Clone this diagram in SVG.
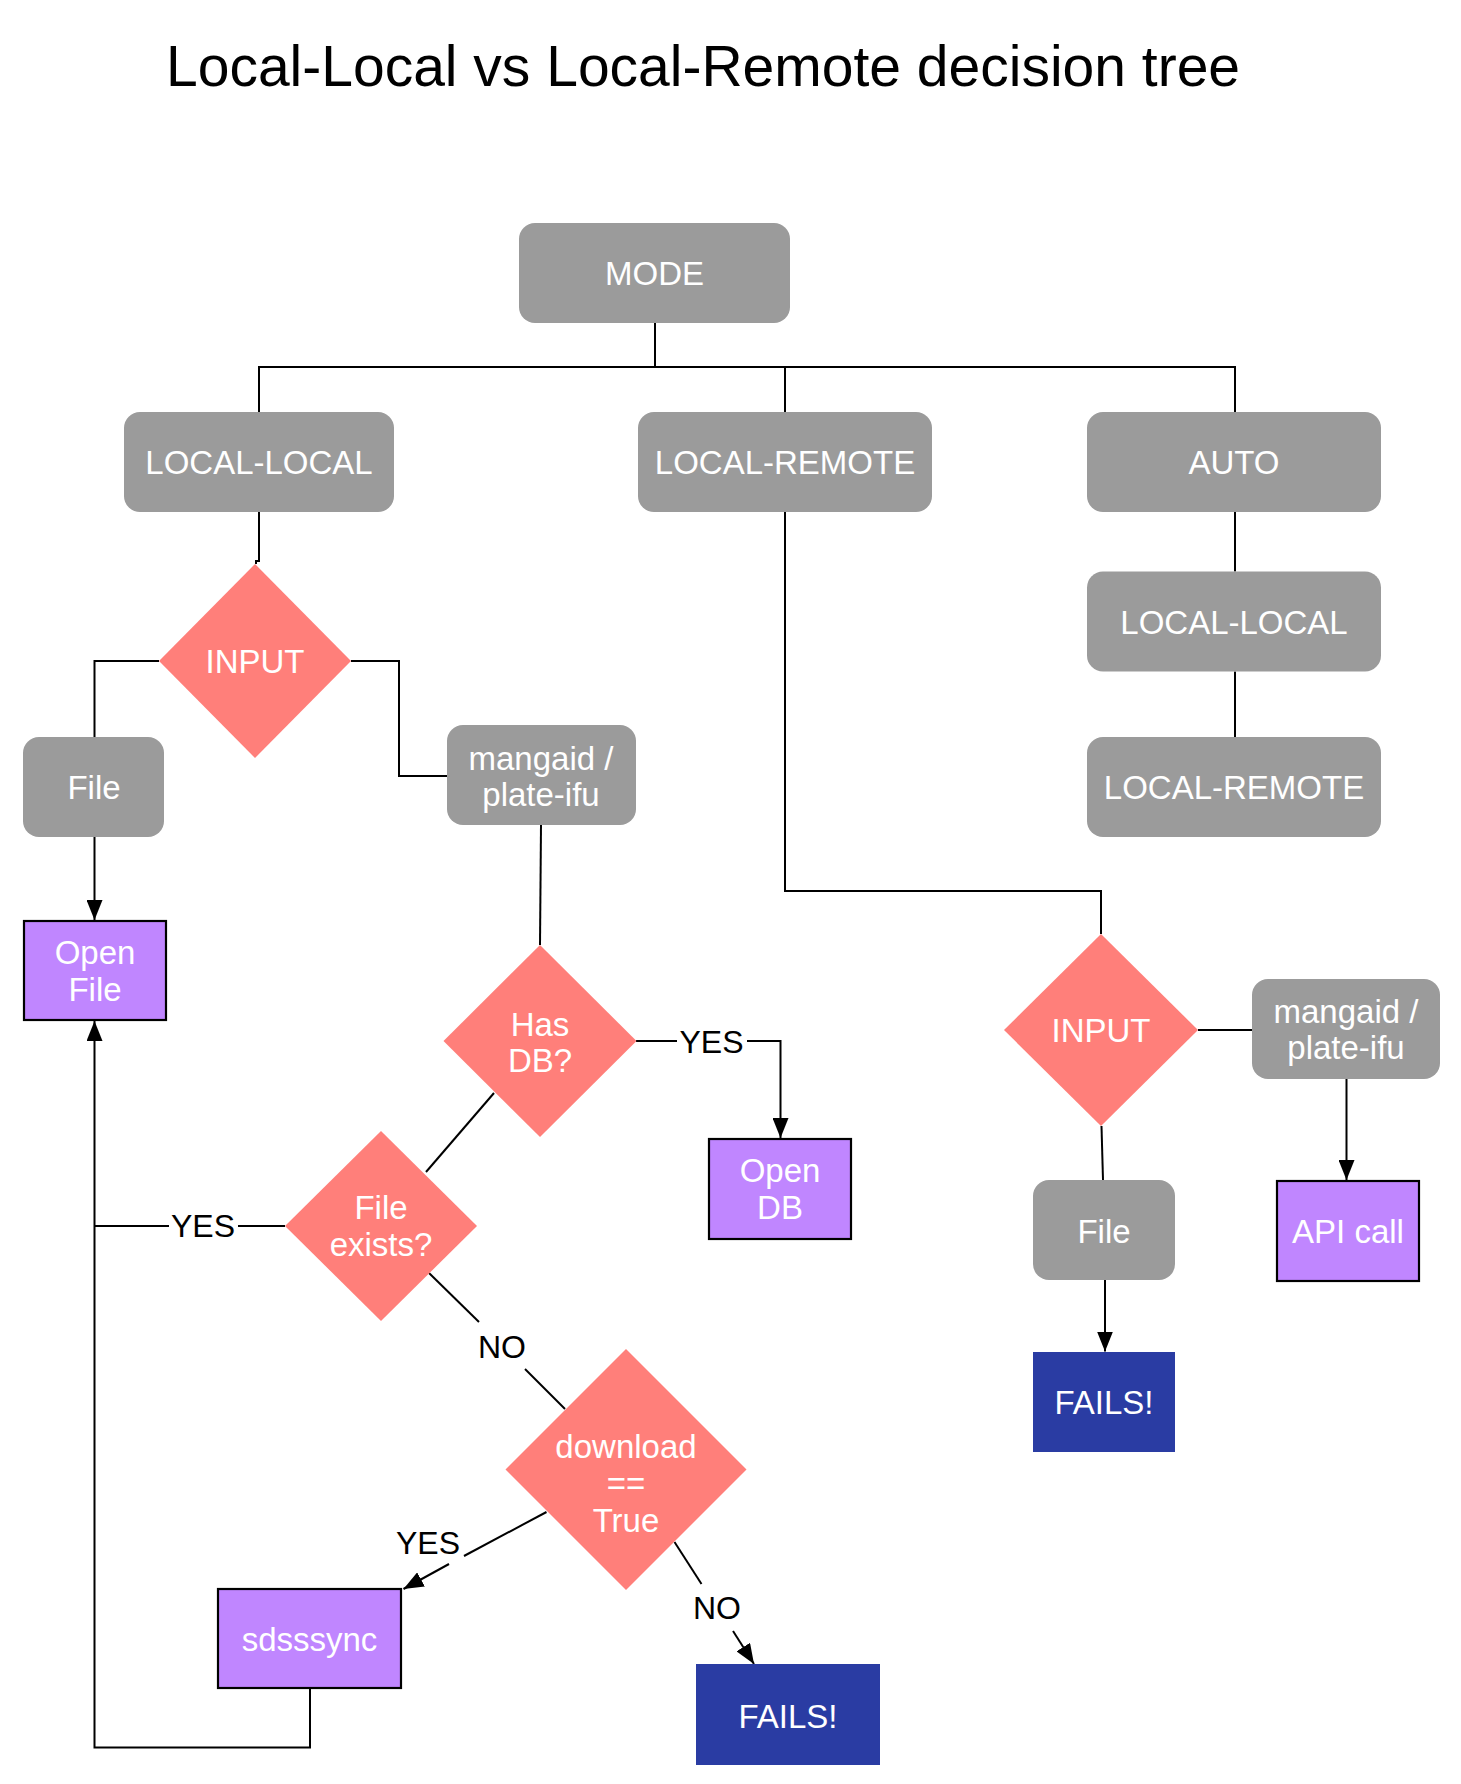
<svg xmlns="http://www.w3.org/2000/svg" width="1461" height="1784" viewBox="0 0 1461 1784">
<defs>
<style>
.bg{fill:#ffffff}
.gray{fill:#9b9b9b}
.dia{fill:#ff7f7a}
.pur{fill:#c086ff;stroke:#000000;stroke-width:2.2}
.navy{fill:#2a3ca3}
.t{font-family:"Liberation Sans",Arial,Helvetica,sans-serif;font-size:33px;fill:#ffffff;text-anchor:middle}
.lbl{font-family:"Liberation Sans",Arial,Helvetica,sans-serif;font-size:32px;fill:#000000;text-anchor:middle}
.title{font-family:"Liberation Sans",Arial,Helvetica,sans-serif;font-size:57px;fill:#000000}
.c{fill:none;stroke:#000000;stroke-width:2}
.a{marker-end:url(#arr)}
</style>
<marker id="arr" viewBox="0 0 20 16" refX="20" refY="8" markerWidth="20" markerHeight="16" markerUnits="userSpaceOnUse" orient="auto">
<path d="M0,0 L20,8 L0,16 Z" fill="#000000"/>
</marker>
</defs>
<rect class="bg" x="0" y="0" width="1461" height="1784"/>
<text class="title" x="166" y="86">Local-Local vs Local-Remote decision tree</text>

<g id="connectors">
<path class="c" d="M655,323 V367"/>
<path class="c" d="M259,412 V367 H1235 V412"/>
<path class="c" d="M785,367 V412"/>
<path class="c" d="M259,512 V561 H256 V564"/>
<path class="c" d="M159,661 H94.5 V737"/>
<path class="c" d="M351,661 H399 V776 H447"/>
<path class="c a" d="M94.5,837 V920"/>
<path class="c" d="M541,825 L540,945"/>
<path class="c" d="M636,1041 H677"/>
<path class="c a" d="M747,1041 H780.5 V1138"/>
<text class="lbl" x="711.5" y="1053">YES</text>
<path class="c" d="M494,1093 L426,1172"/>
<path class="c" d="M285,1226 H238"/>
<path class="c" d="M169,1226 H94.5"/>
<text class="lbl" x="203" y="1237">YES</text>
<path class="c a" d="M310,1688 V1747.5 H94.5 V1021"/>
<path class="c" d="M429,1273 L479,1322"/>
<path class="c" d="M525,1369 L565,1409"/>
<text class="lbl" x="502" y="1358">NO</text>
<path class="c" d="M546.5,1512 L464,1556"/>
<path class="c a" d="M449,1564 L403.5,1589"/>
<text class="lbl" x="428" y="1554">YES</text>
<path class="c" d="M674.5,1542 L701.5,1584"/>
<path class="c a" d="M733,1631 L754,1664"/>
<text class="lbl" x="717" y="1619">NO</text>
<path class="c" d="M1235,512 V571.5"/>
<path class="c" d="M1235,671.5 V737"/>
<path class="c" d="M785,512 V891 H1101 V934"/>
<path class="c" d="M1198,1030 H1252"/>
<path class="c a" d="M1346.5,1079 V1180"/>
<path class="c" d="M1101.5,1126 L1103,1180"/>
<path class="c a" d="M1105,1280 V1351.5"/>
</g>

<g id="mode"><rect class="gray" x="519" y="223" width="271" height="100" rx="16"/><text class="t" x="654.5" y="285">MODE</text></g>
<g id="local-local"><rect class="gray" x="124" y="412" width="270" height="100" rx="16"/><text class="t" x="259" y="474">LOCAL-LOCAL</text></g>
<g id="local-remote"><rect class="gray" x="638" y="412" width="294" height="100" rx="16"/><text class="t" x="785" y="474">LOCAL-REMOTE</text></g>
<g id="auto"><rect class="gray" x="1087" y="412" width="294" height="100" rx="16"/><text class="t" x="1234" y="474">AUTO</text></g>
<g id="auto-local-local"><rect class="gray" x="1087" y="571.5" width="294" height="100" rx="16"/><text class="t" x="1234" y="634">LOCAL-LOCAL</text></g>
<g id="auto-local-remote"><rect class="gray" x="1087" y="737" width="294" height="100" rx="16"/><text class="t" x="1234" y="799">LOCAL-REMOTE</text></g>

<g id="input-ll"><polygon class="dia" points="255,564 351,661 255,758 159,661"/><text class="t" x="255" y="673">INPUT</text></g>
<g id="file-ll"><rect class="gray" x="23" y="737" width="141" height="100" rx="16"/><text class="t" x="94" y="799">File</text></g>
<g id="open-file"><rect class="pur" x="24" y="921" width="142" height="99"/><text class="t" x="95" y="964">Open</text><text class="t" x="95" y="1001">File</text></g>
<g id="mangaid-ll"><rect class="gray" x="447" y="725" width="189" height="100" rx="16"/><text class="t" x="541" y="770">mangaid /</text><text class="t" x="541" y="806">plate-ifu</text></g>
<g id="has-db"><polygon class="dia" points="540,945 636.5,1041 540,1137 443.5,1041"/><text class="t" x="540" y="1036">Has</text><text class="t" x="540" y="1072">DB?</text></g>
<g id="open-db"><rect class="pur" x="709" y="1139" width="142" height="100"/><text class="t" x="780" y="1182">Open</text><text class="t" x="780" y="1219">DB</text></g>
<g id="file-exists"><polygon class="dia" points="381,1131 477,1226 381,1321 285,1226"/><text class="t" x="381" y="1219">File</text><text class="t" x="381" y="1256">exists?</text></g>
<g id="download"><polygon class="dia" points="626,1349 746.5,1469.5 626,1590 505.5,1469.5"/><text class="t" x="626" y="1458">download</text><text class="t" x="626" y="1495">==</text><text class="t" x="626" y="1532">True</text></g>
<g id="sdsssync"><rect class="pur" x="218" y="1589" width="183" height="99"/><text class="t" x="309.5" y="1651">sdsssync</text></g>
<g id="fails-ll"><rect class="navy" x="696" y="1664" width="184" height="101"/><text class="t" x="788" y="1728">FAILS!</text></g>

<g id="input-lr"><polygon class="dia" points="1101,934 1198,1030 1101,1126 1004,1030"/><text class="t" x="1101" y="1042">INPUT</text></g>
<g id="mangaid-lr"><rect class="gray" x="1252" y="979" width="188" height="100" rx="16"/><text class="t" x="1346" y="1023">mangaid /</text><text class="t" x="1346" y="1059">plate-ifu</text></g>
<g id="file-lr"><rect class="gray" x="1033" y="1180" width="142" height="100" rx="16"/><text class="t" x="1104" y="1243">File</text></g>
<g id="api-call"><rect class="pur" x="1277" y="1181" width="142" height="100"/><text class="t" x="1348" y="1243">API call</text></g>
<g id="fails-lr"><rect class="navy" x="1033" y="1352" width="142" height="100"/><text class="t" x="1104" y="1414">FAILS!</text></g>
</svg>
